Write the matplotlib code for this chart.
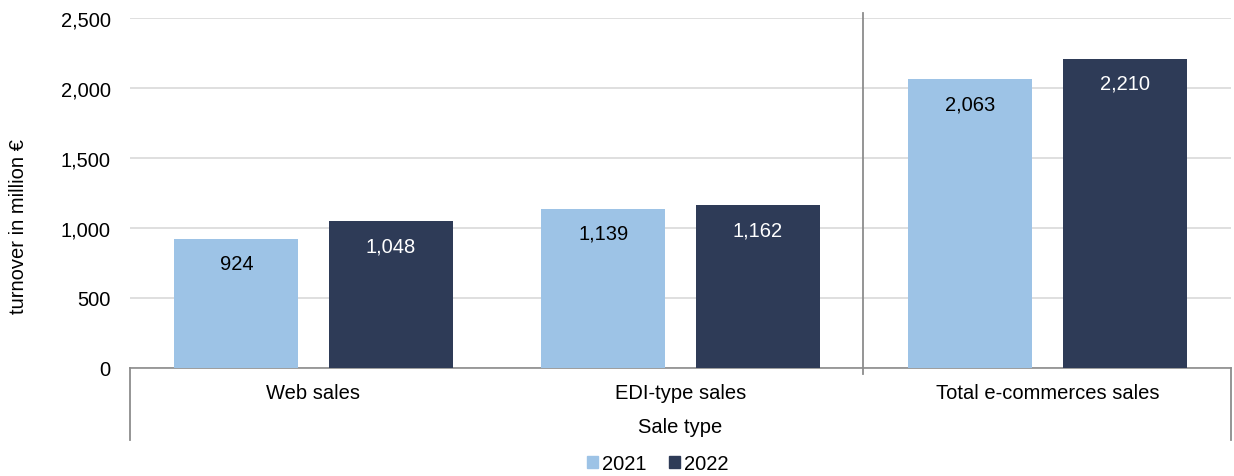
import matplotlib
matplotlib.use("Agg")
import matplotlib.pyplot as plt
import numpy as np
from matplotlib.lines import Line2D
from matplotlib.patches import Patch

plt.rcParams['font.family'] = ['Liberation Sans', 'DejaVu Sans']

categories = ["Web sales", "EDI-type sales", "Total e-commerces sales"]
series_names = ["2021", "2022"]
values_2021 = [924, 1139, 2063]
values_2022 = [1048, 1162, 2210]
labels_2021 = ["924", "1,139", "2,063"]
labels_2022 = ["1,048", "1,162", "2,210"]
yticks = [0, 500, 1000, 1500, 2000, 2500]
ytick_labels = ["0", "500", "1,000", "1,500", "2,000", "2,500"]

c1 = "#9DC3E6"
c2 = "#2E3B57"
FS = 14.5

W, H = 1234, 477
fig = plt.figure(figsize=(W/100, H/100), dpi=100)
ax = fig.add_axes([130/W, 1-369/H, (1231-130)/W, (369-19)/H])

x = np.arange(len(categories))
bw = 0.338
off = 0.21
b1 = ax.bar(x - off, values_2021, bw, color=c1, zorder=3)
b2 = ax.bar(x + off, values_2022, bw, color=c2, zorder=3)

for rect, lab in zip(b1, labels_2021):
    ax.annotate(lab, (rect.get_x() + rect.get_width()/2, rect.get_height()),
                xytext=(0, -17.8), textcoords="offset points", ha="center", va="center",
                fontsize=FS, color="black", zorder=4)
for rect, lab in zip(b2, labels_2022):
    ax.annotate(lab, (rect.get_x() + rect.get_width()/2, rect.get_height()),
                xytext=(0, -17.8), textcoords="offset points", ha="center", va="center",
                fontsize=FS, color="white", zorder=4)

ax.set_xlim(-0.5, 2.5)
ax.set_ylim(0, 2500)
ax.set_yticks(yticks)
ax.set_yticklabels(ytick_labels, fontsize=FS)
ax.set_xticks(x)
ax.set_xticklabels(categories, fontsize=FS)
ax.tick_params(axis='both', length=0)
ax.tick_params(axis='y', pad=14)
ax.tick_params(axis='x', pad=11)
ax.grid(axis='y', color="#D9D9D9", linewidth=1.2, zorder=0)
for s in ["top", "right", "left"]:
    ax.spines[s].set_visible(False)
ax.spines["bottom"].set_color("#8C8C8C")
ax.spines["bottom"].set_linewidth(1.2)
ax.set_ylabel("turnover in million €", fontsize=FS)
ax.yaxis.set_label_coords((28 - 130)/(1231-130), (369-227)/350)

# separators / category-frame lines (figure pixel coords)
def vline(xp, y0, y1):
    fig.add_artist(Line2D([xp/W, xp/W], [1-y0/H, 1-y1/H], transform=fig.transFigure,
                          color="#8C8C8C", linewidth=1.3))
vline(130, 369, 441)
vline(1231, 369, 441)
vline(863, 14, 375)

fig.text(680/W, 1-428/H, "Sale type", ha="center", va="center", fontsize=FS)

handles = [Patch(color=c1), Patch(color=c2)]
fig.legend(handles, series_names, loc="center", bbox_to_anchor=(658/W, 1-465/H),
           ncol=2, frameon=False, fontsize=FS, handlelength=0.55, handleheight=0.55,
           handletextpad=0.2, columnspacing=1.1)

fig.savefig("out.png", dpi=100)
